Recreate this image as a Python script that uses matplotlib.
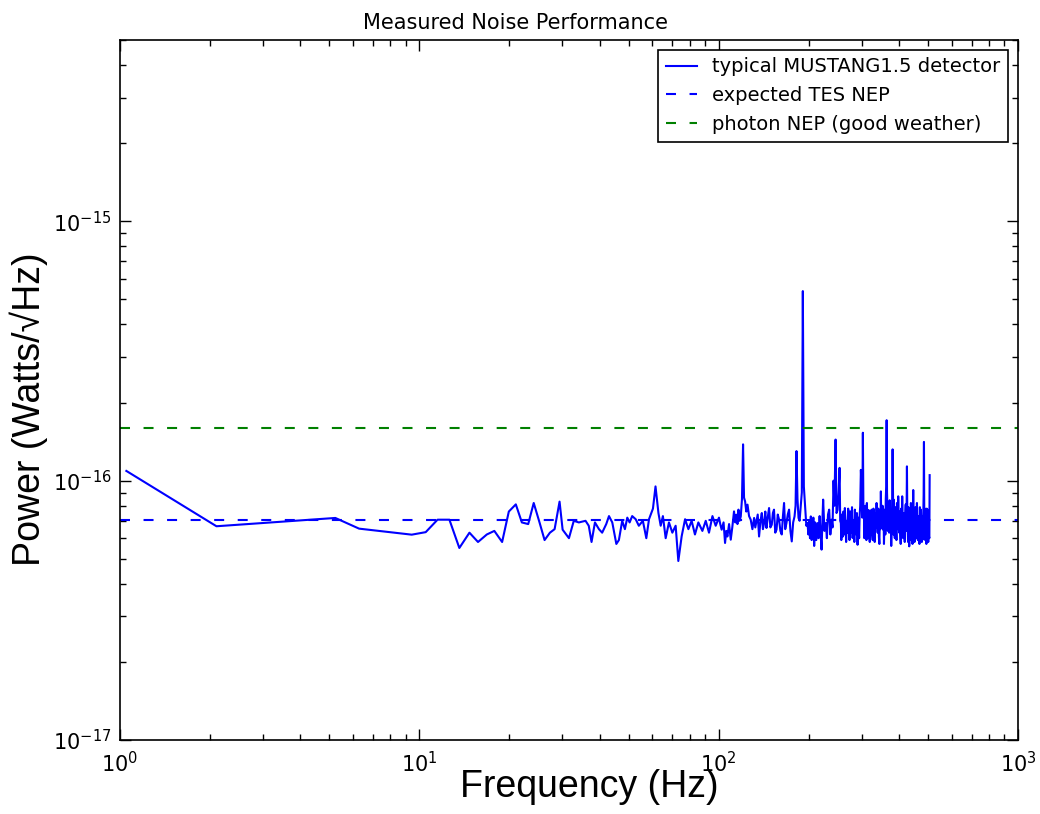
import matplotlib
matplotlib.use('Agg')
import matplotlib.pyplot as plt

# noise spectrum (frequency in Hz, power in units of 1e-17 W/sqrt(Hz))
freq_low = [1.05, 2.1, 5.24, 6.29, 9.43, 10.5, 11.5, 12.6, 13.6, 14.7, 15.7, 16.8, 17.8, 18.9,
            19.9, 21.0, 22.0, 23.1, 24.1, 25.2, 26.2, 27.3, 28.3, 29.4, 30.1, 31.6, 32.8, 34.1,
            35.9, 36.8, 37.6, 38.6, 39.8, 40.8, 42.1, 43.0, 44.1, 45.5, 46.4, 47.6, 48.6, 49.5,
            50.4, 51.4, 52.8, 54.1, 55.8, 57.3, 58.5, 60.3, 61.5, 62.9, 64.0, 65.1, 66.5, 68.2,
            70.0, 71.8, 73.3, 75.2, 77.2, 79.2, 81.2, 83.3, 85.5, 88.2, 90.5, 92.8, 95.3, 97.7]
power_low = [10.9, 6.67, 7.18, 6.53, 6.19, 6.33, 7.07, 7.07, 5.5, 6.3, 5.8, 6.2, 6.4, 5.8,
             7.6, 8.1, 6.9, 6.8, 8.2, 6.9, 5.9, 6.3, 6.5, 8.3, 6.47, 6.0, 7.0, 6.9,
             7.0, 6.7, 5.8, 6.9, 6.5, 6.3, 6.8, 7.3, 6.9, 5.7, 5.9, 7.0, 6.5, 7.2,
             6.9, 7.3, 7.1, 6.7, 7.0, 6.0, 7.1, 7.8, 9.5, 7.5, 6.7, 7.3, 6.0, 6.9,
             6.3, 6.7, 4.9, 6.1, 7.1, 6.5, 7.0, 6.2, 6.9, 6.4, 7.0, 6.3, 7.3, 6.7]

freq_mid = [100.2, 101.2, 102.3, 103.8, 105.0, 106.0, 106.9, 108.3, 109.7, 111.0, 112.5, 113.6,
            114.6, 115.5, 116.4, 117.4, 118.5, 119.6, 120.6, 121.5, 122.5, 123.6, 124.8, 126.3,
            127.9, 129.6, 131.3, 132.5, 133.7, 135.0, 136.4, 137.9, 139.3, 140.5, 141.8, 143.1,
            144.4, 145.8, 147.3, 148.8, 150.4, 151.7, 153.0, 154.5, 156.0, 157.5, 159.1, 160.7,
            162.4, 163.9, 165.3, 166.8, 168.4, 170.1, 171.8, 173.6, 175.4, 177.3, 179.2, 180.6,
            181.9, 183.3, 184.8, 186.3, 187.7, 189.5, 191.0, 192.5, 194.4, 196.2, 198.0, 199.3,
            200.5, 201.8, 203.1, 204.4, 205.8, 207.1, 208.4, 210.0, 211.8, 213.9, 215.5, 217.3,
            219.0, 220.6, 222.0, 223.3, 225.5, 228.0, 229.8, 231.8, 233.9, 236.0, 238.3, 240.0,
            241.9, 243.5, 245.7, 247.5, 249.5, 251.5, 253.4]
power_mid = [7.2, 6.8, 6.47, 6.9, 5.75, 6.4, 6.09, 6.8, 5.92, 6.6, 7.61, 6.9,
             7.39, 6.8, 7.73, 7.0, 7.28, 8.5, 13.8, 8.6, 8.32, 7.6, 8.08, 7.3,
             7.07, 6.5, 7.18, 6.6, 6.96, 7.4, 6.09, 7.0, 7.5, 6.5, 6.86, 7.6,
             6.57, 7.2, 7.84, 6.6, 6.76, 7.5, 7.73, 6.3, 6.47, 7.4, 7.07, 6.4,
             6.2, 7.3, 8.2, 6.5, 6.86, 7.4, 7.73, 6.4, 5.83, 6.9, 7.28, 8.0,
             13.0, 8.5, 7.18, 7.0, 7.8, 9.0, 53.8, 9.5, 7.96, 6.7, 6.86, 6.2,
             6.96, 6.0, 7.28, 5.9, 6.3, 7.2, 5.6, 6.9, 5.9, 6.86, 6.0, 7.3,
             6.2, 5.42, 7.0, 8.45, 6.4, 6.86, 6.0, 7.4, 7.73, 6.2, 7.07, 6.6,
             10.0, 8.0, 14.4, 7.5, 7.7, 9.0, 11.2]

freq_high = [254.6, 255.9, 256.8, 257.8, 258.8, 259.9, 261.0, 262.0, 263.0, 263.9, 265.2, 266.5,
             268.0, 269.4, 270.7, 272.0, 273.5, 274.9, 276.2, 277.5, 278.8, 280.1, 281.3, 282.5,
             283.8, 285.0, 286.5, 288.0, 289.5, 291.0, 292.2, 293.3, 294.5, 295.6, 297.0, 298.5,
             300.5, 301.8, 303.1, 304.3, 305.5, 306.6, 307.8, 309.0, 310.2, 311.4, 312.6, 314.0,
             315.4, 316.8, 318.2, 319.6, 321.0, 322.5, 324.1, 325.5, 327.0, 328.8, 330.6, 332.0,
             333.5, 335.1, 336.8, 338.2, 339.6, 341.2, 342.8, 344.1, 345.5, 346.8, 348.1, 349.5,
             351.0, 352.7, 354.4, 355.5, 356.5, 357.8, 359.1, 360.3, 361.5, 362.7, 363.9, 365.0,
             366.0, 367.2, 368.3, 369.6, 371.0, 372.5, 374.1, 375.5, 377.0, 378.3, 379.5, 381.0,
             382.5, 383.3, 384.0, 385.7, 387.5, 389.1, 390.8, 392.4, 394.0, 395.9, 397.8, 399.4,
             401.0, 402.5, 404.0, 405.5, 407.0, 408.6, 410.2, 411.8, 413.5, 415.0, 416.6, 418.3,
             420.0, 421.5, 423.0, 424.2, 425.4, 426.7, 428.0, 429.2, 430.5, 431.8, 433.0, 434.4,
             435.8, 437.2, 438.6, 440.0, 441.5, 442.8, 444.0, 445.3, 446.5, 448.0, 449.5, 451.0,
             452.4, 454.1, 455.8, 457.6, 459.4, 461.1, 462.8, 464.7, 466.6, 468.3, 470.0, 471.9,
             473.8, 475.4, 477.0, 478.5, 480.0, 481.2, 482.5, 483.7, 484.9, 486.0, 487.0, 488.2,
             489.5, 491.0, 492.4, 494.0, 495.5, 497.2, 498.9, 500.0, 501.2, 502.6, 503.9, 505.5,
             506.6]
power_high = [7.0, 6.86, 5.9, 7.4, 6.6, 6.09, 7.6, 7.0, 6.2, 7.84, 6.9, 5.8,
              7.0, 6.28, 7.8, 7.2, 5.9, 7.61, 6.8, 6.3, 7.9, 6.01, 6.9, 7.0,
              5.8, 7.73, 6.6, 6.2, 7.5, 5.66, 7.2, 6.8, 6.0, 7.28, 8.0, 11.0,
              9.0, 7.2, 15.3, 8.0, 7.5, 6.0, 6.86, 8.0, 7.4, 5.9, 8.2, 6.8,
              6.0, 7.7, 6.28, 5.8, 7.6, 6.5, 7.73, 6.2, 5.9, 7.8, 6.47, 5.8,
              7.5, 6.6, 8.2, 6.9, 6.3, 7.8, 6.09, 5.7, 7.4, 6.5, 9.09, 6.6,
              6.9, 8.0, 6.47, 7.3, 5.7, 6.8, 7.73, 6.2, 8.5, 9.5, 17.1, 9.0,
              8.0, 6.4, 8.2, 7.0, 6.3, 8.4, 6.86, 7.6, 5.6, 6.8, 8.0, 13.2,
              7.5, 6.2, 8.45, 6.8, 6.0, 7.9, 6.86, 5.9, 8.2, 6.5, 8.7, 7.2,
              6.3, 7.6, 6.28, 5.7, 7.8, 6.6, 8.7, 7.0, 6.0, 7.5, 6.86, 5.8,
              7.4, 8.1, 6.4, 7.3, 11.35, 7.2, 6.5, 5.8, 7.9, 6.6, 5.58, 6.8,
              7.0, 5.9, 8.2, 7.0, 6.2, 7.6, 5.7, 7.2, 9.2, 7.0, 6.5, 5.8,
              6.28, 7.9, 7.6, 6.0, 8.2, 6.8, 5.9, 7.3, 6.09, 5.7, 7.9, 6.5,
              7.73, 6.2, 5.8, 7.3, 5.92, 6.8, 7.5, 8.8, 14.1, 7.5, 6.5, 7.8,
              5.9, 6.9, 6.28, 5.7, 7.8, 6.4, 7.73, 6.6, 5.8, 7.4, 6.09, 6.0,
              10.5]

tes_nep = 7.07e-17
photon_nep = 1.6e-16
scale = 1e-17

freq = freq_low + freq_mid + freq_high
power = [p * scale for p in power_low + power_mid + power_high]

plt.rcParams['font.family'] = ['DejaVu Sans']
plt.rcParams['axes.unicode_minus'] = False
fig = plt.figure(figsize=(10.4, 8.14), dpi=100)
ax = fig.add_axes([0.1154, 0.0909, 0.8635, 0.8600])

ax.plot(freq, power, color='b', lw=1.5, label='typical MUSTANG1.5 detector')
ax.axhline(tes_nep, color='b', ls='--', lw=1.5, dashes=(4.8, 6.5), label='expected TES NEP')
ax.axhline(photon_nep, color='g', ls='--', lw=1.5, dashes=(4.8, 6.5),
           label='photon NEP (good weather)')

ax.set_xscale('log')
ax.set_yscale('log')
ax.set_xlim(1, 1000)
ax.set_ylim(1e-17, 5e-15)

ax.tick_params(which='both', direction='in', top=True, right=True, labelsize=15)
ax.tick_params(which='major', length=8, width=1)
ax.tick_params(which='minor', length=4, width=1)
ax.tick_params(axis='x', pad=8)
ax.tick_params(axis='y', pad=6)
for s in ax.spines.values():
    s.set_linewidth(1.2)

ax.set_title('Measured Noise Performance', fontsize=15, pad=8, x=0.44)
lab_font = ['Liberation Sans', 'DejaVu Sans']
ax.set_xlabel('Frequency (Hz)', fontsize=27, family=lab_font)
ax.set_ylabel('Power (Watts/\u221aHz)', fontsize=27, family=lab_font)
ax.xaxis.set_label_coords(0.523, -0.042)
ax.yaxis.set_label_coords(-0.080, 0.473)

leg = ax.legend(loc='upper right', fontsize=14, fancybox=False, framealpha=1,
                handlelength=1.6, borderaxespad=0.5)
leg.get_frame().set_edgecolor('black')
leg.get_frame().set_linewidth(1.2)

fig.savefig('out.png', dpi=100, facecolor='white')
